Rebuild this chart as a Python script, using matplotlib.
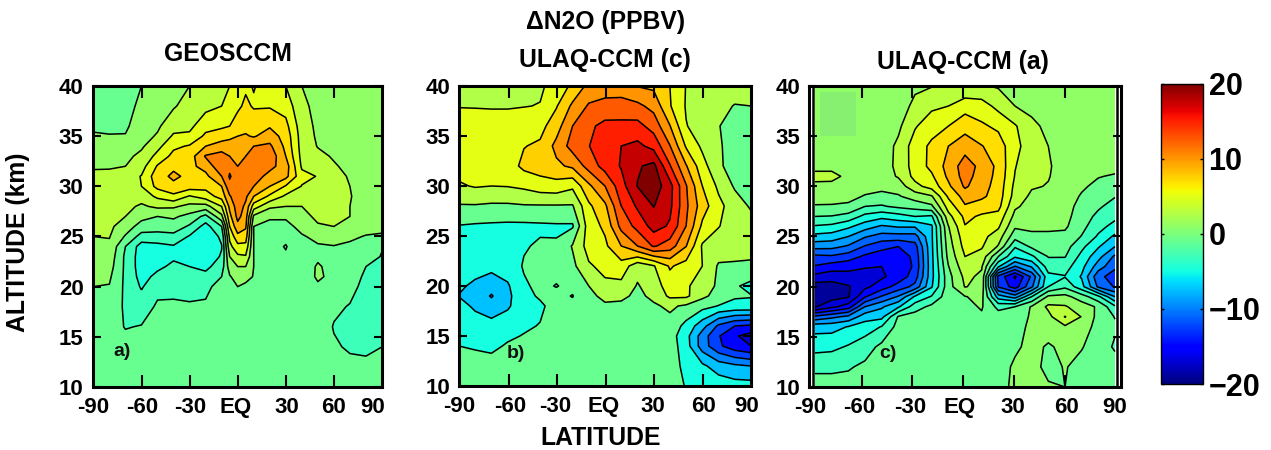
import numpy as np
import matplotlib
matplotlib.use('Agg')
import matplotlib.pyplot as plt
from matplotlib.cm import ScalarMappable
from matplotlib.colors import Normalize
from matplotlib.patches import Rectangle

plt.rcParams['font.family'] = ['Liberation Sans', 'DejaVu Sans']
plt.rcParams['font.weight'] = 'bold'

W, H = 1271, 450

# panel a) GEOSCCM, one list per latitude, bottom to top
geos_lat = [-90, -80, -70, -60, -50, -40, -30, -20, -10, -5, 0, 5, 10, 20, 30, 40, 50, 60, 70, 80, 90]
geos_alt = [10, 14, 16, 18, 20, 21, 22, 23, 24, 25, 26, 27, 28, 29, 30, 31, 32, 33, 34, 35, 36, 38, 40]
geos_values = [
    [-1, -1, -1, -.7, 0, .4, .8, 1.2, 1.6, 2, 2.3, 2.6, 2.8, 2.9, 2.9, 2.4, 1.8, 1.4, .8, .2, -.3, -.8, -1],
    [-1, -1, -1.2, -.8, -.1, .3, .8, 1.2, 1.6, 2.1, 2.4, 2.7, 2.9, 3, 3, 2.5, 1.8, 1.4, .7, .1, -.4, -.8, -1],
    [-1, -1.3, -2.1, -2.3, -2.4, -2.4, -2.4, -2.4, -2, -.2, 1, 2, 2.5, 3, 3.6, 3, 2, 1.5, .8, .1, -.3, -.6, -.8],
    [-1, -1.2, -1.9, -3, -4.2, -4.7, -5, -5, -4.9, -2.8, -.8, .6, 1.7, 2.8, 4, 4.1, 3.2, 2.5, 1.7, 1.3, 1, .4, 0],
    [-1, -1, -1.2, -1.7, -2.6, -3.5, -4.4, -5, -4.7, -2.6, -1.3, 0, 2.4, 4.4, 6.6, 7.2, 6.2, 4.6, 3.4, 2.2, 1.7, 1.2, .8],
    [-1, -1, -1.2, -1.7, -2.5, -3, -3.6, -4.3, -4.2, -2.6, -.9, .3, 2.3, 5.5, 7.5, 8.4, 7.6, 6.6, 5.6, 4.3, 3.2, 1.8, 1.4],
    [-1, -1, -1.2, -1.8, -2.6, -3.3, -4, -4.6, -5, -4.2, -2.3, -.6, 1.4, 3.8, 7, 7.5, 7.5, 7, 6.2, 4.4, 3.5, 2.8, 2],
    [-1, -1, -1.2, -1.7, -2.5, -3.4, -4.5, -5.2, -5.5, -5.5, -4.8, -2.6, 1.2, 5, 6.6, 7.5, 8.7, 10.2, 8, 6.4, 5.3, 3.4, 2.7],
    [-1, -1, -1, -1, -1.2, -2, -3, -3.8, -4.1, -3.6, -2, 1.5, 4, 6.8, 8, 10, 11.5, 10.8, 9, 7, 5.7, 4, 3.7],
    [-1, -1, -1, -1, -.6, -.2, 1, 2, 3.4, 4.5, 6, 7.4, 8.5, 9.8, 11.5, 12.2, 11.5, 10, 8.8, 7.6, 6, 5, 4],
    [-1, -1, -1, -1, 0, 1, 2, 3.6, 5.4, 7.4, 9.4, 10.6, 11, 11.3, 11.6, 11, 10, 9.4, 8.8, 8, 7, 5.6, 5],
    [-1, -1, -1, -1, -.4, .6, 2, 3.8, 5.4, 7, 8.3, 9, 9.6, 10.4, 11, 11.5, 11, 10, 9, 8.2, 7.4, 6.4, 5.7],
    [-1, -1, -1, -1, -.8, -.1, 0, 0, 0, 0, 0, 1.6, 5, 8, 10, 11, 11.6, 11.5, 10, 7.8, 7.2, 5.8, 6.1],
    [-1, -1, -1, -1, -1, -1, -1, -1.2, -1.4, -1, -.4, .2, 2.4, 5.6, 8, 9.3, 10.6, 11.4, 10.4, 9, 7.8, 5.8, 5.3],
    [-1, -1, -1, -1, -1, -1, -1.4, -1.8, -2.1, -1.6, -.6, .3, 2, 3.6, 5.8, 8.6, 9, 8, 7.5, 7.2, 6.6, 5.2, 4],
    [-1, -1, -1, -1, -1.2, -1.2, -1, -1, -.8, -.2, .6, 1.4, 2, 3, 3.9, 4.6, 3.7, 3.4, 3.2, 3.1, 2.9, 2.4, 2],
    [-1, -1, -1, -1, -.3, .3, .2, -.3, -.2, .5, 1.8, 2.4, 2.6, 2.8, 3, 3.9, 3.2, 2.5, 1.9, 1.7, 1.6, 1.5, 1.4],
    [-1, -1.8, -2.1, -1.7, -.9, -.5, -.6, -.5, -.1, 1, 2, 2.4, 2.6, 2.7, 2.8, 2.7, 2.2, 1.8, 1.5, 1.4, 1.3, 1.2, 1.1],
    [-1, -2.2, -2.5, -2.1, -1.5, -1.2, -1, -.7, -.3, .3, 1, 2, 2, 2.1, 2, 1.8, 1.5, 1.3, 1.2, 1.1, 1, 1, 1],
    [-1, -2.3, -2.6, -2.6, -2.5, -2.3, -2, -1.3, -.7, -.1, .6, 1, 1.1, 1.2, 1.2, 1.2, 1.1, 1.1, 1, 1, 1, 1, 1],
    [-1, -2, -2.6, -3, -2.7, -2.5, -2.3, -2.1, -1.9, -.2, .4, .8, 1, 1, 1, 1, 1, 1, 1, 1, 1, 1, 1],
]

# panel b) ULAQ-CCM (c)
ulaq_c_lat = [-90, -80, -70, -60, -50, -40, -30, -20, -10, 0, 10, 20, 30, 40, 50, 60, 70, 80, 90]
ulaq_c_alt = [10, 12, 14, 15, 16, 18, 19, 20, 22, 24, 26, 28, 30, 32, 34, 36, 38, 40]
ulaq_c_values = [
    [-1, -1.5, -2.5, -2.7, -3, -4, -5.1, -4.6, -4, -3.5, -2.6, -.2, 2.2, 3.5, 4, 3.6, 2.4, 2],
    [-1, -1.7, -2.7, -3.1, -3.6, -5.5, -6, -5.5, -4, -3.6, -2.8, -.2, 2.7, 3.6, 3.8, 3.3, 2.4, 1.8],
    [-1, -1.8, -2.9, -3.4, -4, -6.6, -7.7, -6.6, -4.2, -3.4, -2.9, -.4, 2.5, 3.8, 4.2, 3.6, 2.3, 1.8],
    [-1, -1.7, -2.3, -2.8, -3.4, -5.4, -5.6, -5.3, -3.8, -3.3, -3, -.4, 2.6, 3.8, 4.1, 3.6, 2.3, 1.8],
    [-1, -1.5, -2, -2.4, -2.8, -3.2, -3.2, -2.8, -2.3, -2.7, -3, -.2, 3, 5.6, 4.9, 4.2, 2.4, 1.8],
    [-1, -1.2, -1.5, -1.9, -2.4, -2.9, -2.2, -2, -1.8, -2.2, -2.9, -.2, 3.8, 6.2, 5.4, 4.2, 2.6, 2.1],
    [-1, -1, -1, -1.1, -1.2, -1.6, -1.9, -2.6, -1.7, -2.3, -2.8, -.2, 4, 7, 8.2, 6.4, 4.8, 3.5],
    [-1, -1, -1, -1.1, -1.2, -2, -2.6, -1.9, -.6, .2, -2.8, -.2, 3, 8, 11, 10, 8, 5.5],
    [-1, -1, -1, -1, -1, -.8, -.5, 0, 2.2, 3.5, 3.8, 4.5, 7, 11, 12.4, 12, 10.3, 8.2],
    [-1, -1, -1, -1, -1, -.3, .5, 2, 3.2, 4.5, 5.5, 7, 10, 13.5, 14.7, 13.2, 10.8, 8.8],
    [-1, -1, -1, -1, -1, -.5, .5, 1.8, 4, 7.5, 10.8, 12.5, 14, 15.2, 15, 13.2, 10.9, 8.8],
    [-1, -1, -1, -1, -1, -.8, -.5, -.2, .9, 10, 13.3, 15.4, 17.6, 17.2, 15.6, 13.3, 10.6, 7.4],
    [-1, -1, -1, -1, -1, -.3, .5, 1.2, 2.3, 12.8, 16, 17.6, 19, 18.2, 14.2, 11.5, 9.2, 7],
    [-1, -1, -1.2, -1.4, -.8, .4, 3, 3.8, 5.3, 11.3, 14.7, 15.6, 15.9, 12.7, 10.1, 7.6, 5.2, 5],
    [-2.7, -3.4, -3.9, -4.1, -3.3, -.4, 3, 2.8, 4, 7.6, 10, 10.5, 10.2, 7.7, 4.7, 2.6, 2.3, 2.4],
    [-3.2, -4.5, -8.7, -8.7, -6.5, -1.6, .6, 1.5, 2.5, 2.2, 4.5, 6.2, 5, 3.5, 2, 1.5, 1.3, 1.6],
    [-3.5, -6.2, -12, -12.3, -10.5, -2.6, -1, -.5, -.3, 1.5, 2.6, 3.2, 2, .4, .3, .1, .6, 1.2],
    [-4, -7, -14, -14.7, -12.5, -3, -2.3, -2.2, -.3, 1, 1.5, 1.2, -.3, -1, -1, -1, -.1, 1],
    [-4, -7.5, -15, -16, -13, -3, -2.4, -3.2, -.4, .9, 1, -.3, -1.5, -1.2, -1.3, -1.2, 0, .8],
]

# panel c) ULAQ-CCM (a)
ulaq_a_lat = [-90, -80, -70, -60, -50, -40, -30, -20, -10, 0, 10, 20, 30, 40, 50, 60, 70, 80, 90]
ulaq_a_alt = [10, 12, 14, 16, 17, 18, 19, 20, 21, 22, 23, 24, 25, 26, 27, 28, 29, 30, 31, 32, 34, 36, 38, 40]
ulaq_a_values = [
    [-1.2, -2.4, -4.7, -6.7, -11.5, -18.2, -19, -19, -16.6, -14.2, -12.5, -9.3, -6.6, -4.2, -2, -.2, 1, 1.5, 2.6, 1.4, 1, 1, 1, 1],
    [-1.2, -2.4, -4.5, -6.7, -10.5, -16.5, -18.8, -18.8, -17.2, -15, -12.3, -9.4, -6.9, -4.5, -2.1, -.2, .8, 1.4, 2.6, 1.4, 1, 1, 1, 1],
    [-1.2, -2.2, -3.8, -5.9, -9.5, -15, -18.2, -18.2, -16.7, -15.4, -13, -10.3, -8, -5.6, -2.7, -.5, .8, 1.2, 1.5, 1.2, 1, 1, 1, 1],
    [-1, -1.6, -2.9, -5, -6.9, -10, -14.2, -16.5, -17, -15.8, -14.4, -12.2, -9.8, -7.1, -4.6, -2, -.2, 1, 1.2, 1.2, 1, 1, 1, 1],
    [-.8, -1, -1.5, -3.9, -6.6, -8.3, -11.8, -15, -16.3, -16, -15, -13.4, -10.8, -8.3, -5.4, -2.2, -.7, .7, 1, 1, 1, 1, 1, 1],
    [-.8, -.8, -1, -1.3, -1.8, -6.3, -9.8, -13.2, -15.2, -15.7, -15.4, -14, -10.8, -7.8, -4.8, -1.6, -.2, .9, 2.2, 2.5, 2.4, 1.6, 1.2, 1],
    [-.6, -.8, -.8, -1, -1.2, -2.9, -5.7, -11.4, -13, -13.6, -13.4, -12.8, -10.8, -7.8, -4, -1.2, .9, 3.4, 4.6, 4.9, 5, 3.8, 2.4, 1.7],
    [-.6, -.8, -.6, -.6, -.8, -1.5, -3.8, -6.2, -6.6, -6.6, -6.5, -6.4, -6.3, -6.3, -4.3, -.4, 1.8, 4.8, 5.7, 6.5, 6.4, 5.2, 3.6, 1.9],
    [-.5, -.6, -.6, -.7, -.7, -.8, -.8, -.8, -.7, -.1, .6, 1, 1.4, 1.9, 3.3, 4.9, 6.3, 7.6, 8.4, 8.7, 8, 6, 4, 2],
    [-.6, -.6, -.6, -.6, -.6, -.6, -.1, 2.1, 2.5, 3.3, 4, 4.7, 5.2, 5.9, 6.5, 7.8, 8.8, 10.3, 10.8, 11, 9.2, 7.2, 5.2, 2.2],
    [-.8, -.8, -.6, -.4, -.3, .2, .6, 1.4, 1.6, 2.2, 3.3, 4.2, 4.6, 5, 5.7, 7, 8.4, 8.8, 9.1, 9.4, 8.1, 6.3, 4.9, 2.2],
    [-.8, -.8, -.8, -.8, -1, -2.6, -7, -12.2, -12.6, -5.8, -2, 1.8, 3, 4.3, 5.3, 6.6, 7, 7.2, 7.4, 7.5, 7, 5.6, 3.4, 1.8],
    [.5, .3, -.3, -.7, -1.2, -2, -9, -15, -16.3, -10.2, -5.7, -3.8, -1.2, .3, 1.4, 2.3, 3.2, 3.5, 3.9, 4.1, 4.6, 4.2, 2, 1.5],
    [.7, .6, .5, .4, .3, .2, -4, -10.4, -11.6, -7.8, -4.4, -1.6, -.5, .5, 1, 1.3, 1.6, 2.2, 2.6, 2.7, 2.9, 2.5, 1.4, 1],
    [.2, -.5, -.2, .8, 1.4, 2.4, .4, -4, -4.6, -3, -1.9, -1.2, -.3, .3, .6, 1, 1.3, 1.9, 2.1, 2.2, 2, 1.5, 1.2, 1],
    [0, .1, .4, 1.7, 4.1, 2.2, .6, -2.4, -4.1, -3.2, -1.9, -1.2, -.5, .3, .6, .8, 1, 1.2, 1.2, 1.2, 1.2, 1.1, 1, 1],
    [-.5, -.5, .1, 1, 1.9, 1, -1, -5.3, -6.2, -5.4, -4.6, -3.5, -2.1, -1.4, -1, -.7, -.2, .3, .6, .8, 1, 1, 1, 1],
    [-.8, -.8, -.8, -.7, -.6, -.3, -3.5, -10.4, -11.4, -9, -7.3, -5.8, -4.3, -3.3, -2.5, -1.7, -1.1, -.5, .1, .7, 1, 1, 1, 1],
    [-1, -1, -2.3, -1.7, -2.1, -3.6, -8, -12.2, -13, -11.6, -10.4, -8, -6.4, -4.7, -3.5, -2.8, -1.9, -1.1, -.2, .6, 1, 1, 1, 1],
]

xtick_values = [-60, -30, 0, 30, 60]
xtick_labels = ['-90', '-60', '-30', 'EQ', '30', '60', '90']
ytick_values = [10, 15, 20, 25, 30, 35, 40]
cbar_ticks = [-20, -10, 0, 10, 20]
cbar_labels = ['\u221220', '\u221210', '0', '10', '20']


def px_axes(left, top, right, bottom):
    return fig.add_axes([left / W, 1 - bottom / H, (right - left) / W, (bottom - top) / H])


def draw_panel(ax, lat, alt, values, levels, colors=None):
    z = np.array(values).T
    if colors is None:
        ax.contourf(lat, alt, z, levels=levels, cmap='jet', vmin=-20, vmax=20, extend='both')
    else:
        ax.contourf(lat, alt, z, levels=levels, colors=colors, extend='neither')
    ax.contour(lat, alt, z, levels=levels, colors='black', linewidths=1.1, linestyles='solid')


def style_panel(ax, x0, px_per_deg, tick_px, label_px):
    # labels were placed by hand in the original, so they sit off the ticks
    ax.set_ylim(10, 40)
    ax.set_xticks([(p - x0) / px_per_deg for p in label_px], xtick_labels)
    ax.set_xticks([(p - x0) / px_per_deg for p in tick_px], minor=True)
    ax.set_yticks(ytick_values)
    ax.tick_params(axis='x', which='major', length=0, pad=7, labelsize=16)
    ax.tick_params(axis='x', which='minor', direction='in', top=True, bottom=True, length=8.5, width=1.5)
    ax.tick_params(axis='y', direction='in', left=True, right=True, length=6, width=1.5, pad=6.5, labelsize=16)
    for spine in ax.spines.values():
        spine.set_linewidth(2.2)


fig = plt.figure(figsize=(W / 100, H / 100), dpi=100)

# a) GEOSCCM
ax1 = px_axes(92.7, 86, 382, 387)
draw_panel(ax1, geos_lat, geos_alt, geos_values, np.arange(-20, 21, 2))
ax1.set_xlim(-90, 90)
style_panel(ax1, 237.3, 1.607, [141, 189.5, 237.5, 286, 334], [92, 142, 190, 235, 287, 333, 373])

# b) ULAQ-CCM (c), 2.5 contour interval
ax2 = px_axes(459, 86, 751, 386)
b_levels = np.arange(-20, 20.1, 2.5)
b_mids = (b_levels[:-1] + b_levels[1:]) / 2
b_tone = b_mids + 1.25 * np.sign(b_mids)
b_tone[b_mids == -1.25] = -1
b_colors = plt.get_cmap('jet')((b_tone + 20) / 40)
draw_panel(ax2, ulaq_c_lat, ulaq_c_alt, ulaq_c_values, b_levels, b_colors)
ax2.set_xlim(-90, 90)
style_panel(ax2, 605, 1.622, [509, 557.3, 605.7, 654, 702.7], [459, 510, 555, 604, 653, 703, 747])

# c) ULAQ-CCM (a), white gap and second line on both sides
ax3 = px_axes(809, 86, 1121, 387)
draw_panel(ax3, ulaq_a_lat, ulaq_a_alt, ulaq_a_values, np.arange(-20, 21, 2))
ax3.set_xlim((809 - 965) / (300 / 180), (1121 - 965) / (300 / 180))
style_panel(ax3, 965, 300 / 180, [861.7, 911.7, 963.3, 1014, 1065], [810, 859, 910, 960, 1012.7, 1066.7, 1115])
ax3.axvline(-91.4, color='black', lw=1.8)
ax3.axvline(91.2, color='black', lw=1.8)
ax3.add_patch(Rectangle((-87, 35), 21.6, 4.4, facecolor='#88f070', edgecolor='none'))

# colorbar
cax = px_axes(1161, 83.5, 1203, 384)
cbar = fig.colorbar(ScalarMappable(Normalize(-20, 20), 'jet'), cax=cax)
cbar.set_ticks(cbar_ticks, labels=cbar_labels)
cax.tick_params(direction='in', left=True, right=True, length=2.5, width=1, pad=4, labelsize=22)
cbar.outline.set_linewidth(1)

# text
fig.text(228 / W, 1 - 54 / H, 'GEOSCCM', ha='center', va='center', fontsize=17.8)
fig.text(605 / W, 1 - 60 / H, 'ULAQ-CCM (c)', ha='center', va='center', fontsize=17.8)
fig.text(963 / W, 1 - 62 / H, 'ULAQ-CCM (a)', ha='center', va='center', fontsize=17.8)
fig.text(606 / W, 1 - 22 / H, '\u0394N2O (PPBV)', ha='center', va='center', fontsize=17.8)
fig.text(18 / W, 1 - 242 / H, 'ALTITUDE (km)', rotation=90, ha='center', va='center', fontsize=17.8)
fig.text(601 / W, 1 - 438 / H, 'LATITUDE', ha='center', va='center', fontsize=17.8)
fig.text(122 / W, 1 - 352 / H, 'a)', ha='center', va='center', fontsize=14, color='#111111')
fig.text(516 / W, 1 - 353 / H, 'b)', ha='center', va='center', fontsize=14, color='#111111')
fig.text(888 / W, 1 - 353 / H, 'c)', ha='center', va='center', fontsize=14, color='#111111')

fig.savefig('out.png', dpi=100)
